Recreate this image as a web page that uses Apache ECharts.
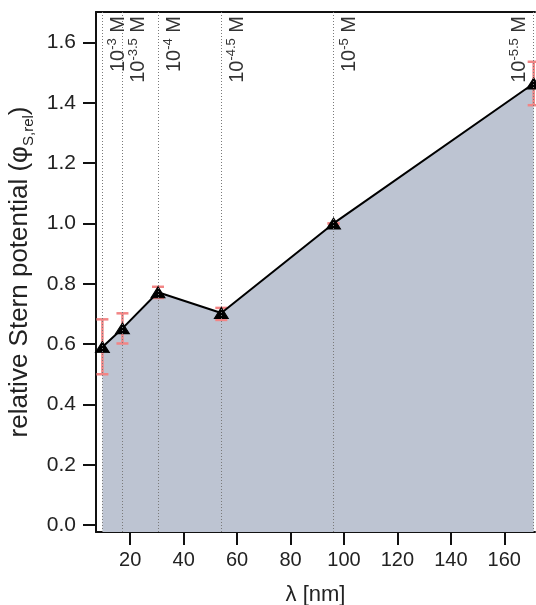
<!DOCTYPE html>
<html><head><meta charset="utf-8">
<script src="https://cdn.jsdelivr.net/npm/echarts@6/dist/echarts.min.js"></script>
<style>html,body{margin:0;padding:0;background:#fff}#c{width:536px;height:605px}</style>
</head><body><div id="c"></div>
<script>
// Debye length (nm) for each ionic strength
const lambdaNm = [9.6, 17.1, 30.4, 54.1, 96.1, 171.0];
// relative Stern potential
const phiRel = [0.59, 0.652, 0.772, 0.703, 1.0, 1.464];
const errLow = [0.50, 0.602, 0.753, 0.68, 1.0, 1.392];
const errHigh = [0.682, 0.702, 0.79, 0.72, 1.0, 1.536];
// concentration exponents (10^x M)
const concExp = ['-3', '-3.5', '-4', '-4.5', '-5', '-5.5'];
const xTicks = [20, 40, 60, 80, 100, 120, 140, 160];
const yTicks = [0, 0.2, 0.4, 0.6, 0.8, 1.0, 1.2, 1.4, 1.6];

const FONT = 'Liberation Sans, Arial, sans-serif';
const chart = echarts.init(document.getElementById('c'), null, {renderer: 'canvas'});

const pts = lambdaNm.map((x, i) => [x, phiRel[i]]);
const errs = lambdaNm.map((x, i) => [x, errLow[i], errHigh[i]]);

const option = {
  animation: false,
  backgroundColor: '#fff',
  grid: {left: 96, right: 1, top: 12, bottom: 73, outerBoundsMode: 'none', containLabel: false},
  xAxis: [{
    type: 'value', min: 7.2, max: 171.5, position: 'bottom',
    axisLine: {show: true, onZero: false, lineStyle: {color: '#111', width: 2}},
    axisTick: {show: true, customValues: xTicks, length: 13, lineStyle: {color: '#111', width: 2}},
    axisLabel: {customValues: xTicks, fontSize: 20, color: '#222', fontFamily: FONT, margin: 18},
    splitLine: {show: false},
    name: 'λ [nm]', nameLocation: 'middle', nameGap: 52,
    nameTextStyle: {fontSize: 22, color: '#222', fontFamily: FONT}
  }, {
    type: 'value', min: 7.2, max: 171.5, position: 'top',
    axisLine: {show: true, onZero: false, lineStyle: {color: '#111', width: 2}},
    axisTick: {show: false}, axisLabel: {show: false}, splitLine: {show: false}
  }],
  yAxis: {
    type: 'value', min: -0.023, max: 1.701,
    axisLine: {show: true, onZero: false, lineStyle: {color: '#111', width: 2}},
    axisTick: {show: true, customValues: yTicks, length: 13, lineStyle: {color: '#111', width: 2}},
    axisLabel: {customValues: yTicks, fontSize: 21, color: '#222', fontFamily: FONT, margin: 20,
      formatter: v => v.toFixed(1)},
    splitLine: {show: false},
    name: 'relative Stern potential (φ{sub|S,rel})', nameLocation: 'middle', nameRotate: 90, nameGap: 58,
    nameTextStyle: {fontSize: 26, color: '#222', fontFamily: FONT, lineHeight: 32,
      rich: {sub: {fontSize: 15, lineHeight: 18, verticalAlign: 'bottom', color: '#222', fontFamily: FONT}}}
  },
  series: [{
    type: 'line', data: pts, z: 1, symbol: 'none', silent: true,
    lineStyle: {width: 0, opacity: 0},
    areaStyle: {color: '#bdc4d2', opacity: 1, origin: 'start'}
  }, {
    type: 'custom', data: errs, z: 2, silent: true,
    renderItem: (params, api) => {
      const x = api.value(0), lo = api.value(1), hi = api.value(2);
      const a = api.coord([x, lo]), b = api.coord([x, hi]);
      const hw = 6, st = {stroke: '#f28585', lineWidth: 2.5};
      return {type: 'group', children: [
        {type: 'line', shape: {x1: a[0], y1: a[1], x2: b[0], y2: b[1]}, style: st},
        {type: 'line', shape: {x1: a[0] - hw, y1: a[1], x2: a[0] + hw, y2: a[1]}, style: st},
        {type: 'line', shape: {x1: b[0] - hw, y1: b[1], x2: b[0] + hw, y2: b[1]}, style: st}
      ]};
    },
    markLine: {
      silent: true, symbol: ['none', 'none'], animation: false,
      lineStyle: {color: '#7a7a7a', width: 1, type: [1, 2]},
      label: {
        show: true, position: 'insideEndBottom', distance: 4,
        color: '#333', fontSize: 20, fontFamily: FONT,
        rich: {
          n: {fontSize: 20, lineHeight: 22, verticalAlign: 'bottom', color: '#333', fontFamily: FONT},
          s: {fontSize: 13, lineHeight: 13, verticalAlign: 'top', color: '#333', fontFamily: FONT}
        }
      },
      data: lambdaNm.map((x, i) => ({
        xAxis: x,
        label: {
          formatter: '{n|10}{s|' + concExp[i] + '}{n| M}',
          position: i === lambdaNm.length - 1 ? 'insideEndTop' : 'insideEndBottom'
        }
      }))
    }
  }, {
    type: 'line', data: pts, z: 3, silent: true, symbol: 'none',
    lineStyle: {color: '#000', width: 2}
  }, {
    type: 'scatter', data: pts, z: 4, silent: true,
    symbol: 'triangle', symbolSize: [14, 11],
    itemStyle: {color: '#000', borderColor: '#000', borderWidth: 1, opacity: 1}
  }]
};
chart.setOption(option);
</script>
</body></html>
